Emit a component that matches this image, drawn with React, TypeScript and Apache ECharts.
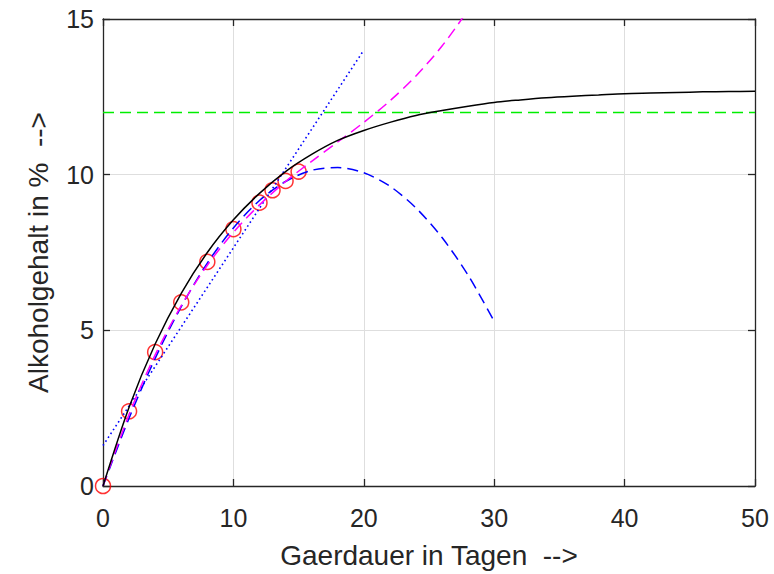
import React, { useEffect, useRef } from "react";
import * as echarts from "echarts";

// Measured data (red circles)
const obsDays = [0, 2, 4, 6, 8, 10, 12, 13, 14, 15];
const obsAlcohol = [0, 2.4, 4.3, 5.9, 7.2, 8.25, 9.1, 9.5, 9.8, 10.1];

// Saturation fit (black solid)
const satDays = [0, 2, 4, 6, 8, 10, 12, 14, 16, 18, 20, 22, 24, 26, 28, 30, 32, 34, 36, 38, 40, 42, 44, 46, 48, 50];
const satAlcohol = [0, 2.53, 4.56, 6.19, 7.5, 8.55, 9.4, 10.1, 10.65, 11.1, 11.42, 11.68, 11.9, 12.06, 12.2, 12.32, 12.4, 12.47, 12.52, 12.56, 12.6, 12.62, 12.64, 12.66, 12.67, 12.68];

// Cubic fit (magenta dashed)
const cubicDays = [0, 2, 4, 6, 8, 10, 12, 14, 16, 18, 20, 22, 24, 26, 28];
const cubicAlcohol = [0, 2.3, 4.21, 5.79, 7.09, 8.15, 9.03, 9.78, 10.43, 11.05, 11.68, 12.37, 13.17, 14.13, 15.29];

// Quadratic fit (blue dashed)
const quadDays = [0, 2, 4, 6, 8, 10, 12, 14, 16, 18, 20, 22, 24, 26, 28, 30];
const quadAlcohol = [0, 2.18, 4.1, 5.76, 7.16, 8.29, 9.17, 9.78, 10.14, 10.23, 10.06, 9.63, 8.93, 7.98, 6.77, 5.29];

// Linear fit (blue dotted)
const linDays = [0, 20];
const linAlcohol = [1.3, 14.0];

// Limit (green dashed)
const limitDays = [0, 50];
const limitAlcohol = [12, 12];

const pairs = (xs: number[], ys: number[]) => xs.map((x, i) => [x, ys[i]]);

const TEXT = "#262626";
const FONT = "Liberation Sans, Arial, sans-serif";

export default function App() {
  const ref = useRef<HTMLDivElement>(null);
  useEffect(() => {
    if (!ref.current) return;
    const chart = echarts.init(ref.current, undefined, { renderer: "svg" });
    const baseX = {
      type: "value" as const,
      min: 0,
      max: 50,
      interval: 10,
      splitLine: { show: true, lineStyle: { color: "#dedede", width: 1 } },
      axisLine: { show: true, onZero: false, lineStyle: { color: TEXT, width: 1.3 } },
      axisTick: { show: true, inside: true, length: 7, lineStyle: { color: TEXT, width: 1.3 } },
    };
    const baseY = {
      type: "value" as const,
      min: 0,
      max: 15,
      interval: 5,
      splitLine: { show: true, lineStyle: { color: "#dedede", width: 1 } },
      axisLine: { show: true, onZero: false, lineStyle: { color: TEXT, width: 1.3 } },
      axisTick: { show: true, inside: true, length: 7, lineStyle: { color: TEXT, width: 1.3 } },
    };
    chart.setOption({
      animation: false,
      backgroundColor: "#ffffff",
      grid: { left: 103, right: 19, top: 19, bottom: 85, containLabel: false },
      xAxis: [
        {
          ...baseX,
          position: "bottom",
          name: "Gaerdauer in Tagen  -->",
          nameLocation: "middle",
          nameGap: 55,
          nameTextStyle: { color: TEXT, fontSize: 28, fontFamily: FONT },
          axisLabel: { color: TEXT, fontSize: 25, fontFamily: FONT, margin: 19 },
        },
        {
          ...baseX,
          position: "top",
          splitLine: { show: false },
          axisLabel: { show: false },
        },
      ],
      yAxis: [
        {
          ...baseY,
          position: "left",
          name: "Alkoholgehalt in %  -->",
          nameLocation: "middle",
          nameGap: 51,
          nameTextStyle: { color: TEXT, fontSize: 28, fontFamily: FONT },
          axisLabel: { color: TEXT, fontSize: 25, fontFamily: FONT, margin: 9 },
        },
        {
          ...baseY,
          position: "right",
          splitLine: { show: false },
          axisLabel: { show: false },
        },
      ],
      series: [
        {
          type: "line",
          data: pairs(limitDays, limitAlcohol),
          symbol: "none",
          lineStyle: { color: "#00ee00", width: 1.5, type: [11, 6] },
        },
        {
          type: "line",
          data: pairs(linDays, linAlcohol),
          symbol: "none",
          lineStyle: { color: "#0000ff", width: 1.6, type: [1.6, 3] },
        },
        {
          type: "line",
          data: pairs(quadDays, quadAlcohol),
          symbol: "none",
          smooth: 0.3,
          lineStyle: { color: "#0000ff", width: 1.5, type: [11, 6] },
        },
        {
          type: "line",
          data: pairs(cubicDays, cubicAlcohol),
          symbol: "none",
          smooth: 0.3,
          lineStyle: { color: "#ff00ff", width: 1.5, type: [11, 6] },
        },
        {
          type: "line",
          data: pairs(satDays, satAlcohol),
          symbol: "none",
          smooth: 0.3,
          lineStyle: { color: "#000000", width: 1.5 },
        },
        {
          type: "scatter",
          data: pairs(obsDays, obsAlcohol),
          symbol: "circle",
          symbolSize: 15,
          itemStyle: { color: "rgba(0,0,0,0)", borderColor: "#ff0000", borderWidth: 1.5 },
        },
      ],
    });
    return () => chart.dispose();
  }, []);
  return (
    <div
      ref={ref}
      style={{ position: "fixed", left: 0, top: 0, width: 774, height: 574, background: "#fff" }}
    />
  );
}
